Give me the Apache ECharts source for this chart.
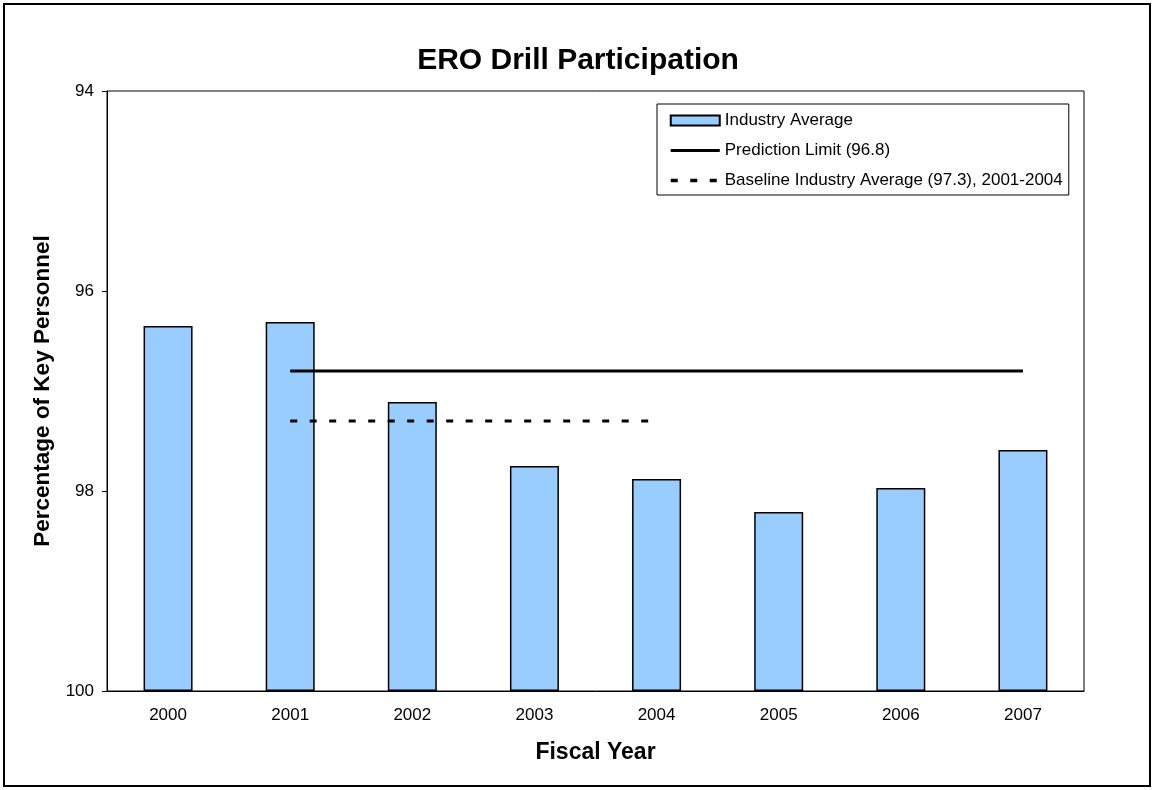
<!DOCTYPE html>
<html>
<head>
<meta charset="utf-8">
<script src="https://cdn.jsdelivr.net/npm/echarts@6/dist/echarts.min.js"></script>
<style>
html,body{margin:0;padding:0;background:#fff;}
#wrap{position:absolute;left:3px;top:3px;width:1148px;height:784px;border:2px solid #000;box-sizing:border-box;}
#chart{position:absolute;left:0;top:0;width:1156px;height:790px;}
</style>
</head>
<body>
<div id="wrap"></div>
<div id="chart"></div>
<script>
const years = ['2000','2001','2002','2003','2004','2005','2006','2007'];
const industryAverage = [96.35, 96.31, 97.11, 97.75, 97.88, 98.21, 97.97, 97.59];
const predictionLimit = [null, 96.8, 96.8, 96.8, 96.8, 96.8, 96.8, 96.8];
const baselineAverage = [null, 97.3, 97.3, 97.3, 97.3, null, null, null];
const yTicks = [94, 96, 98, 100];

// Axis runs from 100 (bottom) up to 94 (top): plot distance below 100.
const TOP = 100;
const flip = v => (v == null ? null : +(TOP - v).toFixed(4));

const FONT = 'Arial, "Liberation Sans", sans-serif';
const hiddenSymbol = {color: 'rgba(0,0,0,0)', borderWidth: 0, opacity: 0};
const chart = echarts.init(document.getElementById('chart'), null, {renderer: 'canvas'});
chart.setOption({
  backgroundColor: 'transparent',
  animation: false,
  title: {
    text: 'ERO Drill Participation',
    left: 'center',
    top: 41,
    textStyle: {fontFamily: FONT, fontSize: 30, fontWeight: 'bold', color: '#000'}
  },
  legend: {
    orient: 'vertical',
    left: 657,
    top: 104,
    padding: [8, 6, 6, 12],
    itemGap: 13,
    itemWidth: 49,
    itemHeight: 10,
    borderColor: '#000',
    borderWidth: 1,
    backgroundColor: '#fff',
    textStyle: {fontFamily: FONT, fontSize: 17, color: '#000'},
    data: [
      {name: 'Industry Average', icon: 'rect'},
      {name: 'Prediction Limit (96.8)', itemStyle: hiddenSymbol,
       lineStyle: {width: 3, color: '#000', type: 'solid'}},
      {name: 'Baseline Industry Average (97.3), 2001-2004', itemStyle: hiddenSymbol,
       lineStyle: {width: 3.5, color: '#000', type: [7, 12.5], cap: 'butt'}}
    ]
  },
  grid: {left: 107, right: 72, top: 91, height: 600, containLabel: false},
  xAxis: {
    type: 'category',
    data: years,
    boundaryGap: true,
    name: 'Fiscal Year',
    nameLocation: 'middle',
    nameGap: 50,
    nameTextStyle: {fontFamily: FONT, fontSize: 23, fontWeight: 'bold', color: '#000'},
    axisLine: {lineStyle: {color: '#000', width: 1}},
    axisTick: {show: false},
    axisLabel: {fontFamily: FONT, fontSize: 17, color: '#000', margin: 16}
  },
  yAxis: {
    type: 'value',
    min: 0,
    max: 6,
    interval: 2,
    name: 'Percentage of Key Personnel',
    nameLocation: 'middle',
    nameRotate: 90,
    nameGap: 53,
    nameTextStyle: {fontFamily: FONT, fontSize: 22.5, fontWeight: 'bold', color: '#000'},
    axisLine: {show: true, lineStyle: {color: '#000', width: 1}},
    axisTick: {show: true, inside: false, length: 5, lineStyle: {color: '#000'}},
    splitLine: {show: false},
    axisLabel: {
      fontFamily: FONT, fontSize: 17, color: '#000', margin: 13,
      formatter: v => String(yTicks.find(t => Math.abs(TOP - t - v) < 1e-6) ?? (TOP - v))
    }
  },
  series: [
    {
      name: 'Industry Average',
      type: 'bar',
      barWidth: 49,
      data: industryAverage.map(flip),
      itemStyle: {color: '#99CCFF', borderColor: '#000', borderWidth: 1.5},
      z: 2
    },
    {
      name: 'Prediction Limit (96.8)',
      type: 'line',
      data: predictionLimit.map(flip),
      symbol: 'none',
      connectNulls: false,
      lineStyle: {color: '#000', width: 3, type: 'solid'},
      itemStyle: {color: '#000'},
      z: 3
    },
    {
      name: 'Baseline Industry Average (97.3), 2001-2004',
      type: 'line',
      data: baselineAverage.map(flip),
      symbol: 'none',
      lineStyle: {color: '#000', width: 3, type: [7, 12.5], cap: 'butt'},
      itemStyle: {color: '#000'},
      z: 3
    }
  ],
  graphic: [
    {
      type: 'rect',
      shape: {x: 107, y: 91, width: 977, height: 600},
      style: {fill: 'none', stroke: '#000', lineWidth: 1},
      silent: true,
      z: 1
    }
  ]
});
</script>
</body>
</html>
